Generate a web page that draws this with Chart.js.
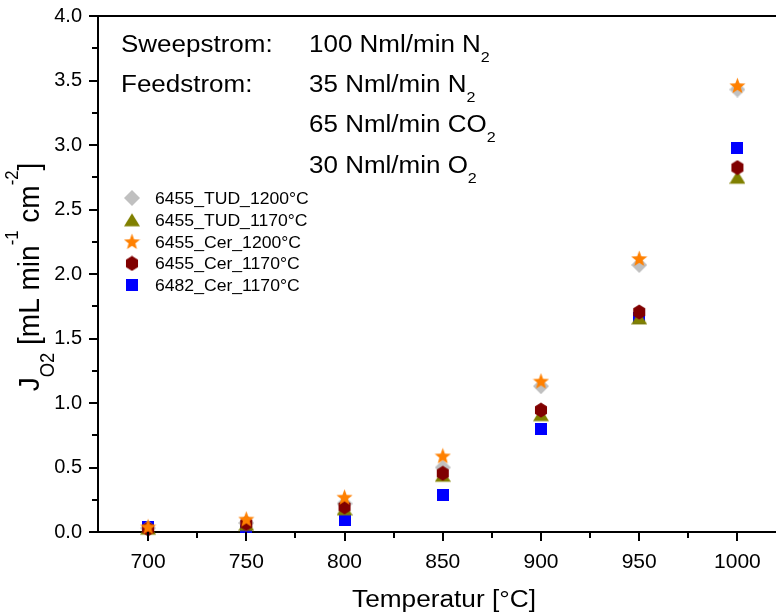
<!DOCTYPE html>
<html>
<head>
<meta charset="utf-8">
<title>Sauerstofffluss vs. Temperatur</title>
<script src="https://cdn.jsdelivr.net/npm/chart.js@4.4.1/dist/chart.umd.min.js"></script>
<style>
  body { margin: 0; background: #fff; }
  #wrap { width: 776px; height: 615px; }
</style>
</head>
<body>
<div id="wrap"><canvas id="fluxChart" width="776" height="615"></canvas></div>
<script>
const temps = [700, 750, 800, 850, 900, 950, 1000];
const tud1200 = [0.03, 0.07, 0.22, 0.50, 1.13, 2.07, 3.43];
const tud1170 = [0.03, 0.06, 0.18, 0.44, 0.91, 1.66, 2.75];
const cer1200 = [0.04, 0.10, 0.27, 0.59, 1.17, 2.12, 3.46];
const cer1170 = [0.025, 0.065, 0.195, 0.455, 0.945, 1.705, 2.825];
const ns6482 = [0.04, 0.04, 0.095, 0.29, 0.795, 1.66, 2.975];

const seriesNames = ['6455_TUD_1200°C', '6455_TUD_1170°C', '6455_Cer_1200°C', '6455_Cer_1170°C', '6482_Cer_1170°C'];

const xTickLabels = ['700', '750', '800', '850', '900', '950', '1000'];
const xMinorTicks = [725, 775, 825, 875, 925, 975];
const yTickLabels = ['0.0', '0.5', '1.0', '1.5', '2.0', '2.5', '3.0', '3.5', '4.0'];
const yMinorTicks = [0.25, 0.75, 1.25, 1.75, 2.25, 2.75, 3.25, 3.75];

const xMajor = xTickLabels.map(Number);
const yMajor = yTickLabels.map(Number);

const FONT = '"Liberation Sans", Arial, sans-serif';

// Marker als kleine Canvas-Bilder (Hexagon und Stern gibt es in Chart.js nicht gefüllt)
function makeMarker(kind, color, size) {
    const c = document.createElement('canvas');
    c.width = size; c.height = size;
    const g = c.getContext('2d');
    const m = size / 2;
    g.fillStyle = color;
    g.beginPath();
    if (kind === 'diamond') {
        g.moveTo(m, 0); g.lineTo(size, m); g.lineTo(m, size); g.lineTo(0, m);
    } else if (kind === 'triangle') {
        g.moveTo(m, 1.5); g.lineTo(size, size - 1.5); g.lineTo(0, size - 1.5);
    } else if (kind === 'star') {
        for (let k = 0; k < 10; k++) {
            const r = k % 2 ? m * 0.42 : m;
            const a = -Math.PI / 2 + k * Math.PI / 5;
            const px = m + r * Math.cos(a), py = m + 0.6 + r * Math.sin(a);
            k ? g.lineTo(px, py) : g.moveTo(px, py);
        }
    } else if (kind === 'hexagon') {
        for (let k = 0; k < 6; k++) {
            const a = -Math.PI / 2 + k * Math.PI / 3;
            const px = m + m * 0.87 * Math.cos(a), py = m + (m - 0.5) * Math.sin(a);
            k ? g.lineTo(px, py) : g.moveTo(px, py);
        }
    } else {
        g.rect(0, 0, size, size);
    }
    g.closePath();
    g.fill();
    return c;
}

const markers = [
    makeMarker('diamond', '#c0c0c0', 16),
    makeMarker('triangle', '#808000', 16),
    makeMarker('star', '#ff8000', 17),
    makeMarker('hexagon', '#800000', 16),
    makeMarker('square', '#0000ff', 12)
];

function toPoints(vals) {
    return temps.map((t, i) => ({ x: t, y: vals[i] }));
}

// Text mit Tief-/Hochstellung; sx = Streckung wie im Original
function richText(ctx, parts, x, y, size, sx, align, opt) {
    opt = opt || {};
    const subScale = opt.subScale || 0.62, subDy = opt.subDy || 0.43;
    const supScale = opt.supScale || 0.62, supDy = opt.supDy || -0.72;
    const fontOf = p => (p[1] === 1 ? size * subScale : p[1] === -1 ? size * supScale : size) + 'px ' + FONT;
    ctx.save();
    ctx.translate(x, y);
    if (opt.vert) ctx.scale(1, sx); else ctx.scale(sx, 1);
    let w = 0;
    parts.forEach(p => { ctx.font = fontOf(p); w += ctx.measureText(p[0]).width; });
    let cx = align === 'center' ? -w / 2 : 0;
    ctx.fillStyle = '#000';
    ctx.textAlign = 'left';
    ctx.textBaseline = 'alphabetic';
    parts.forEach(p => {
        ctx.font = fontOf(p);
        const dy = p[1] === 1 ? size * subDy : p[1] === -1 ? size * supDy : 0;
        ctx.fillText(p[0], cx, dy);
        cx += ctx.measureText(p[0]).width;
    });
    ctx.restore();
}

const decorations = {
    id: 'decorations',
    afterDraw(chart) {
        const ctx = chart.ctx, a = chart.chartArea;
        const xs = chart.scales.x, ys = chart.scales.y;
        ctx.save();
        ctx.strokeStyle = '#000';
        ctx.lineWidth = 2;
        ctx.beginPath();
        // obere und untere Achsenlinie bis zum rechten Rand
        ctx.moveTo(a.left - 1, Math.round(a.top)); ctx.lineTo(chart.width, Math.round(a.top));
        ctx.moveTo(a.right - 2, Math.round(a.bottom)); ctx.lineTo(chart.width, Math.round(a.bottom));
        // Tickmarken
        xMajor.forEach(v => { const p = Math.round(xs.getPixelForValue(v)); ctx.moveTo(p, a.bottom); ctx.lineTo(p, a.bottom + 9); });
        xMinorTicks.forEach(v => { const p = Math.round(xs.getPixelForValue(v)); ctx.moveTo(p, a.bottom); ctx.lineTo(p, a.bottom + 6); });
        yMajor.forEach(v => { const p = Math.round(ys.getPixelForValue(v)); ctx.moveTo(a.left, p); ctx.lineTo(a.left - 9, p); });
        yMinorTicks.forEach(v => { const p = Math.round(ys.getPixelForValue(v)); ctx.moveTo(a.left, p); ctx.lineTo(a.left - 6, p); });
        ctx.stroke();
        ctx.restore();

        // Versuchsbedingungen
        richText(ctx, [['Sweepstrom:', 0]], 121, 52, 23, 1.13);
        richText(ctx, [['100 Nml/min N', 0], ['2', 1]], 309, 52, 23, 1.13);
        richText(ctx, [['Feedstrom:', 0]], 121, 92, 23, 1.13);
        richText(ctx, [['35 Nml/min N', 0], ['2', 1]], 309, 92, 23, 1.13);
        richText(ctx, [['65 Nml/min CO', 0], ['2', 1]], 309, 132, 23, 1.13);
        richText(ctx, [['30 Nml/min O', 0], ['2', 1]], 309, 173, 23, 1.13);

        // Legende
        seriesNames.forEach((name, i) => {
            const y = 198 + i * 21.8;
            const img = markers[i];
            ctx.drawImage(img, 132 - img.width / 2, y - img.height / 2);
            richText(ctx, [[name, 0]], 155, y + 6, 16, 1.1);
        });

        // Achsentitel
        richText(ctx, [['Temperatur [°C]', 0]], 444, 607, 23, 1.14, 'center');
        ctx.save();
        ctx.translate(39, 277);
        ctx.rotate(-Math.PI / 2);
        richText(ctx, [['J', 0], ['O2', 1], [' [mL min', 0], ['-1', -1], [' cm', 0], ['-2', -1], [']', 0]],
            0, 0, 28, 1.05, 'center',
            { vert: true, subScale: 0.66, subDy: 0.52, supScale: 0.6, supDy: -0.7 });
        ctx.restore();
    }
};

new Chart(document.getElementById('fluxChart'), {
    type: 'scatter',
    data: {
        datasets: [
            { label: seriesNames[0], data: toPoints(tud1200), pointStyle: markers[0], order: 2, clip: false },
            { label: seriesNames[1], data: toPoints(tud1170), pointStyle: markers[1], order: 3, clip: false },
            { label: seriesNames[2], data: toPoints(cer1200), pointStyle: markers[2], order: 0, clip: false },
            { label: seriesNames[3], data: toPoints(cer1170), pointStyle: markers[3], order: 1, clip: false },
            { label: seriesNames[4], data: toPoints(ns6482), pointStyle: markers[4], order: 4, clip: false }
        ]
    },
    options: {
        responsive: false,
        animation: false,
        layout: { padding: { top: 16, right: 0, left: 0, bottom: 0 } },
        plugins: {
            legend: { display: false },
            tooltip: { enabled: false }
        },
        scales: {
            x: {
                type: 'linear',
                min: 674.5,
                max: 1017.1,
                afterBuildTicks: s => { s.ticks = xMajor.map(v => ({ value: v })); },
                afterFit: s => { s.height = 83; s.paddingLeft = 0; s.paddingRight = 0; },
                grid: { display: false },
                border: { display: true, color: '#000', width: 2 },
                ticks: {
                    autoSkip: false, maxRotation: 0, padding: 10, color: '#000',
                    font: { family: FONT, size: 21 },
                    callback: v => xTickLabels[xMajor.indexOf(v)]
                }
            },
            y: {
                type: 'linear',
                min: 0,
                max: 4,
                afterBuildTicks: s => { s.ticks = yMajor.map(v => ({ value: v })); },
                afterFit: s => { s.width = 98; s.paddingTop = 0; s.paddingBottom = 0; },
                grid: { display: false },
                border: { display: true, color: '#000', width: 2 },
                ticks: {
                    autoSkip: false, padding: 8, color: '#000',
                    font: { family: FONT, size: 20 },
                    callback: v => yTickLabels[yMajor.indexOf(v)]
                }
            }
        }
    },
    plugins: [decorations]
});
</script>
</body>
</html>
